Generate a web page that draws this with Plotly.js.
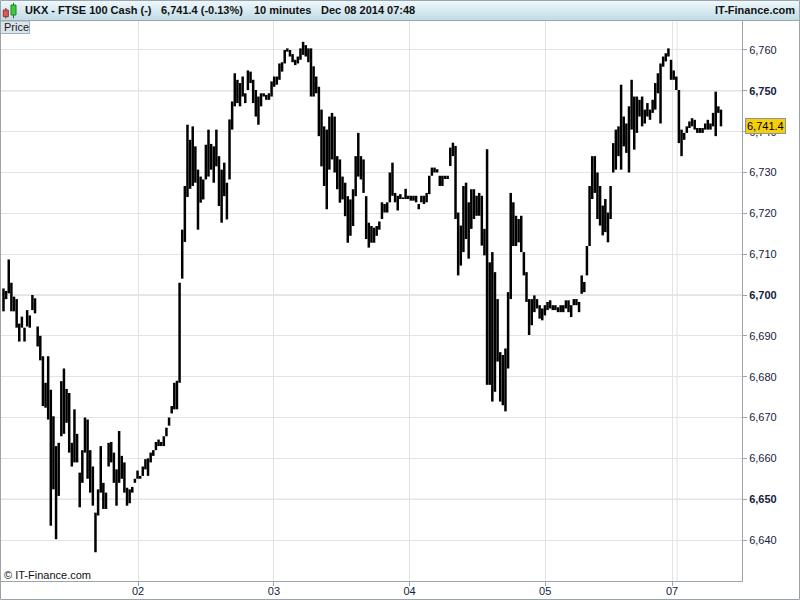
<!DOCTYPE html>
<html>
<head>
<meta charset="utf-8">
<script src="https://cdn.plot.ly/plotly-3.0.1.min.js"></script>
<style>html,body{margin:0;padding:0;background:#fff;}#chart{width:800px;height:600px;}</style>
</head>
<body>
<div id="chart"></div>
<script>
const barHigh = [
6701.6,6701,6708.7,6703,6699.6,6699,6693,6694.7,6692,6696.3,
6695,6700,6699.2,6692.3,6690,6685,6678.5,6685,6676.8,6670.3,
6663,6663.8,6678.9,6682,6677,6676,6663.8,6672,6666,6656.5,
6662,6670,6669.5,6662,6658,6646.7,6652.4,6663,6654,6651.6,
6663.8,6664,6661.4,6657.3,6666.7,6660.6,6659,6652.8,6652.4,6653,
6655,6657,6655.7,6658,6659.8,6660,6661.4,6662,6664,6664.6,
6664,6665.4,6667.5,6670,6672.8,6678.5,6679,6703,6716,6726.7,
6741.7,6738,6741.3,6736.4,6730.7,6729,6728.3,6736.8,6740.5,6737,
6736.4,6740.5,6734,6730.7,6732.4,6727.5,6743,6747.4,6754.3,6752.7,
6751.9,6753.5,6749.4,6755,6754.7,6752.7,6750.2,6748.6,6749.4,6749.4,
6749,6749.4,6752.3,6753.5,6753.5,6756.7,6757,6760,6760.4,6760,
6759,6757.6,6758.4,6760.4,6762,6761.2,6760.4,6760.4,6756,6753.5,
6751,6745.4,6741.3,6740.5,6743.7,6744.6,6743.7,6734,6733.2,6729,
6727.5,6724.2,6723.4,6725.9,6734,6739.7,6734,6733.2,6724.2,6717.7,
6716.9,6716.5,6716.9,6718,6722.7,6722.3,6722.7,6730,6732.4,6725,
6724.3,6724.7,6723.9,6726,6724.3,6724.3,6724.3,6724.3,6722.3,6724.3,
6724.3,6725,6729.2,6731.2,6731.2,6730.8,6729.2,6729.2,6729.2,6729.2,
6736.1,6737.3,6736.5,6720.2,6717,6726.7,6727.5,6722.7,6725.9,6725.9,
6724.3,6725,6724.3,6716.2,6735.7,6708,6710.5,6705.6,6699,6686,
6685.3,6686.9,6700.7,6725,6722.7,6719.4,6718.6,6719.4,6710.5,6705.6,
6699,6699,6699.9,6699,6697.5,6696.7,6697.5,6698.3,6698.7,6697.5,
6697.5,6697,6697.5,6697.5,6698.7,6698.7,6697.5,6699,6699,6698.3,
6704.8,6703.2,6712,6726.7,6734,6734,6730,6726.7,6721.9,6723.5,
6720.2,6726.7,6737.2,6740.5,6741.3,6751.5,6743.7,6742,6746.2,6752.7,
6748.6,6748.6,6747.8,6748.6,6745.4,6747,6745.4,6747.8,6751.9,6754.3,
6756.7,6758.4,6759.2,6760.4,6757.6,6755,6753.5,6750.2,6740.5,6739.7,
6741.3,6742.5,6743.3,6742.9,6740.9,6740.9,6740.9,6742,6742.9,6742,
6744.6,6749.8,6746.2,6745.4
];
const barLow = [
6696,6699,6700.4,6696,6696,6692,6688.6,6692,6688.6,6692.3,
6692,6696.3,6695.5,6687.4,6684,6672.8,6672.4,6669.5,6643.5,6652.4,
6640.2,6650.8,6665.4,6666,6668.7,6661.4,6658,6659,6659,6648,
6654,6661.4,6655,6651.6,6648.4,6637,6646,6651.6,6647.6,6647.6,
6658,6659,6654,6648.4,6654,6655,6651.6,6648.4,6649,6651.6,
6654,6655,6655,6655.7,6657.3,6655.7,6659,6660.6,6662,6663,
6663,6663,6665.4,6668,6671,6672,6672,6678.5,6704,6713,
6724,6726,6726.7,6727.5,6716,6722.6,6723.4,6728.3,6729,6730.7,
6727.5,6731.5,6721.8,6717.7,6724.2,6718.5,6728.3,6740.5,6746.2,6747,
6746.2,6748.6,6747,6750.2,6751.9,6747,6743.7,6741.7,6746.2,6748.6,
6747.8,6747.8,6748.6,6751,6751.5,6752.7,6754.7,6756.7,6759.6,6758.4,
6757,6756.3,6756.7,6757.6,6758.8,6758.4,6757,6748.6,6748.6,6749.4,
6738.9,6731.5,6726.7,6721,6730.7,6733.2,6730,6725.9,6722.6,6723.4,
6719.3,6712.8,6714.5,6716.9,6724.2,6729,6728.3,6725,6713.7,6711.6,
6712.8,6712.8,6714.5,6716,6718.6,6720.2,6720.2,6722.7,6724.3,6722.7,
6720.7,6723.5,6723.5,6723.5,6723.5,6723.1,6723.1,6722.7,6721,6722.7,
6722.3,6722.7,6724.7,6729.2,6730,6730,6726.7,6726.7,6728.4,6728.4,
6731.6,6734,6718.6,6704.8,6707.2,6710.5,6713.7,6708.9,6716.2,6718.6,
6719.4,6719.4,6712.1,6709.7,6678,6678,6673.9,6676.3,6683.7,6673.9,
6673,6671.5,6682,6699,6712,6712,6712.9,6710.5,6704.8,6698.3,
6690.2,6692.6,6695.8,6696.7,6694.2,6693.8,6695,6696.3,6696.7,6696.3,
6696.3,6695.8,6695.8,6695.8,6696.7,6695.8,6694.6,6697.5,6697.5,6695.8,
6700.3,6700.7,6704.8,6712,6723.5,6725,6718.6,6717,6714.6,6715.4,
6712.9,6718.6,6730,6730.7,6734,6730.7,6736.4,6734.8,6730,6740.5,
6735.6,6739.7,6743.7,6741.3,6742,6743.7,6742.9,6744.6,6745.4,6749.4,
6742,6755.9,6757.2,6758.4,6752.7,6752.7,6750.2,6737.2,6734,6738,
6739.7,6740.9,6741.3,6740.5,6739.7,6739.7,6739.7,6740.5,6740.5,6740.5,
6741.3,6738.9,6744.6,6741.3
];
const lastPrice = 6741.4;
const dayTickPos = [51.2, 102.9, 154.5, 206.1, 254.4];
const dayTickLabels = ['02', '03', '04', '05', '07'];
const extraDayLine = 256.3;
const priceTicks = [6640,6650,6660,6670,6680,6690,6700,6710,6720,6730,6740,6750,6760];
const majorPriceTicks = [6650, 6700, 6750];
const headerParts = ['UKX - FTSE 100 Cash (-)', '6,741.4 (-0.13%)', '10 minutes', 'Dec 08 2014 07:48'];

// ---- Build traces ----
const xs = [], ys = [];
for (let i = 0; i < barHigh.length; i++) {
  xs.push(i, i, null);
  ys.push(barLow[i], barHigh[i], null);
}
const fmt = v => v.toLocaleString('en-US');
const priceText = priceTicks.map(v => majorPriceTicks.includes(v) ? '<b>' + fmt(v) + '</b>' : fmt(v));

// pixel -> paper helpers (plot area px 1..742 x, 21..581 y)
const PX = px => (px - 1) / 741;
const PY = py => (581 - py) / 560;

const FONT = 'Liberation Sans, Arial, sans-serif';
const shapes = [];
// header gradient bands
const c0 = [238, 248, 252], c1 = [196, 221, 231];
for (let k = 0; k < 10; k++) {
  const t = k / 9;
  const c = c0.map((v, j) => Math.round(v + (c1[j] - v) * t));
  shapes.push({type: 'rect', xref: 'paper', yref: 'paper', x0: PX(0), x1: PX(800), y0: PY(2 * k + 2), y1: PY(2 * k),
    fillcolor: 'rgb(' + c.join(',') + ')', line: {width: 0}, layer: 'below'});
}
shapes.push({type: 'line', xref: 'paper', yref: 'paper', x0: PX(0), x1: PX(800), y0: PY(20.5), y1: PY(20.5), line: {color: '#9aa5ab', width: 1}});
// candle icon
shapes.push({type: 'line', xref: 'paper', yref: 'paper', x0: PX(5.8), x1: PX(5.8), y0: PY(8), y1: PY(18.5), line: {color: '#7a2a2a', width: 1}});
shapes.push({type: 'rect', xref: 'paper', yref: 'paper', x0: PX(3.3), x1: PX(8.3), y0: PY(16.7), y1: PY(10), fillcolor: '#e0595a', line: {color: '#8a3535', width: 1}});
shapes.push({type: 'line', xref: 'paper', yref: 'paper', x0: PX(13.5), x1: PX(13.5), y0: PY(2.7), y1: PY(18.3), line: {color: '#2a6a2a', width: 1}});
shapes.push({type: 'rect', xref: 'paper', yref: 'paper', x0: PX(11), x1: PX(16), y0: PY(15), y1: PY(5), fillcolor: '#3ccf3c', line: {color: '#2a7a2a', width: 1}});
// Price box
shapes.push({type: 'rect', xref: 'paper', yref: 'paper', x0: PX(0.5), x1: PX(29.5), y0: PY(33.5), y1: PY(21), fillcolor: '#dce5ea', line: {color: '#9fb0b8', width: 1}});
// major gridlines
majorPriceTicks.forEach(v => shapes.push({type: 'line', xref: 'paper', yref: 'y', x0: 0, x1: 1, y0: v, y1: v, line: {color: '#d0d0d0', width: 1}, layer: 'below'}));
// extra day gridline (unlabelled)
shapes.push({type: 'line', xref: 'x', yref: 'paper', x0: extraDayLine, x1: extraDayLine, y0: 0, y1: 1, line: {color: '#e2e2e2', width: 1}, layer: 'below'});
// outer border
shapes.push({type: 'rect', xref: 'paper', yref: 'paper', x0: PX(0.5), x1: PX(799.5), y0: PY(599.5), y1: PY(0.5), line: {color: '#9aa5ab', width: 1}});

const annotations = [];
const headerX = [23, 159, 252, 319];
headerParts.forEach((t, i) => annotations.push({xref: 'paper', yref: 'paper', x: PX(headerX[i]), y: PY(10.5), xanchor: 'left', yanchor: 'middle',
  text: '<b>' + t + '</b>', showarrow: false, font: {family: FONT, size: 11, color: '#111'}}));
annotations.push({xref: 'paper', yref: 'paper', x: PX(797), y: PY(10.5), xanchor: 'right', yanchor: 'middle',
  text: '<b>IT-Finance.com</b>', showarrow: false, font: {family: FONT, size: 11, color: '#111'}});
annotations.push({xref: 'paper', yref: 'paper', x: PX(2), y: PY(27.3), xanchor: 'left', yanchor: 'middle',
  text: 'Price', showarrow: false, font: {family: FONT, size: 11, color: '#1a1a2a'}});
annotations.push({xref: 'paper', yref: 'paper', x: PX(2), y: PY(575), xanchor: 'left', yanchor: 'middle',
  text: '© IT-Finance.com', showarrow: false, font: {family: FONT, size: 11, color: '#111'}});
annotations.push({xref: 'paper', yref: 'y', x: PX(745), y: lastPrice, xanchor: 'left', yanchor: 'middle',
  text: fmt(lastPrice), showarrow: false, bgcolor: '#f6cf0a', bordercolor: '#8797a0', borderwidth: 1, borderpad: 1,
  font: {family: FONT, size: 11, color: '#000'}});

const trace = {type: 'scatter', mode: 'lines', x: xs, y: ys, line: {color: '#000', width: 2.5}, hoverinfo: 'skip', connectgaps: false};

const layout = {
  width: 800, height: 600,
  margin: {l: 1, r: 58, t: 21, b: 19, pad: 0},
  paper_bgcolor: '#fff', plot_bgcolor: '#fff',
  showlegend: false,
  font: {family: FONT, size: 11, color: '#14213d'},
  xaxis: {range: [-0.95, 281.0], tickmode: 'array', tickvals: dayTickPos, ticktext: dayTickLabels,
    showgrid: true, gridcolor: '#e2e2e2', gridwidth: 1, zeroline: false,
    showline: true, linecolor: '#9aa5ab', linewidth: 1,
    ticks: 'outside', ticklen: 4, tickcolor: '#9aa5ab', ticklabelstandoff: -4,
    tickfont: {family: FONT, size: 11, color: '#14213d'}, fixedrange: true},
  yaxis: {range: [6629.96, 6767.1], side: 'right', tickmode: 'array', tickvals: priceTicks, ticktext: priceText,
    showgrid: true, gridcolor: '#e4e4e4', gridwidth: 1, zeroline: false,
    showline: true, linecolor: '#9aa5ab', linewidth: 1,
    ticks: 'outside', ticklen: 4, tickcolor: '#9aa5ab', tickfont: {family: FONT, size: 11, color: '#14213d'}, fixedrange: true},
  shapes: shapes,
  annotations: annotations
};

Plotly.newPlot('chart', [trace], layout, {displayModeBar: false, staticPlot: true});
</script>
</body>
</html>
